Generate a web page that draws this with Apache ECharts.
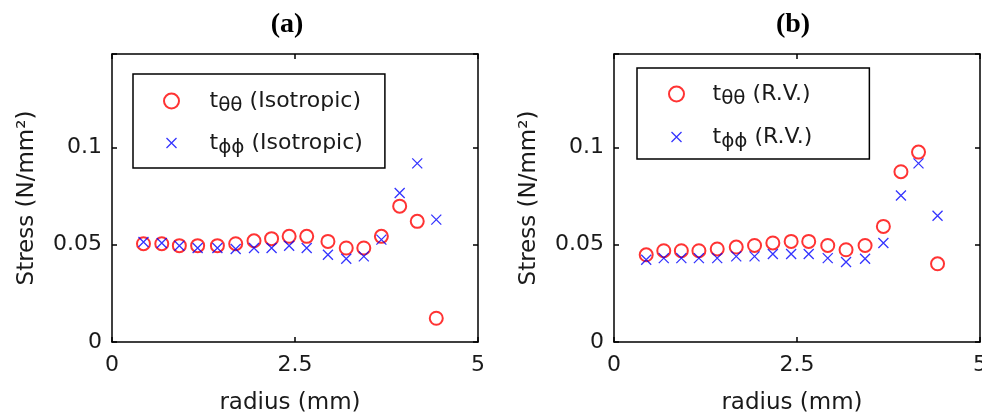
<!DOCTYPE html>
<html>
<head>
<meta charset="utf-8">
<script src="https://cdn.jsdelivr.net/npm/echarts@6/dist/echarts.min.js"></script>
<style>html,body{margin:0;padding:0;background:#fff;}#c{width:982px;height:415px;}</style>
</head>
<body>
<div id="c"></div>
<script>
// ---- data ----
const radiusA = [0.43,0.68,0.92,1.17,1.44,1.69,1.94,2.18,2.42,2.66,2.95,3.20,3.44,3.68,3.93,4.17,4.43];
const tThetaA = [0.0505,0.0505,0.0495,0.0495,0.0495,0.0505,0.0520,0.0531,0.0543,0.0543,0.0517,0.0483,0.0483,0.0543,0.0698,0.0620,0.0122];
const tPhiA   = [0.0514,0.0509,0.0495,0.0483,0.0483,0.0478,0.0483,0.0483,0.0495,0.0483,0.0448,0.0428,0.0440,0.0526,0.0766,0.0918,0.0629];

const radiusB = [0.44,0.68,0.92,1.16,1.41,1.67,1.92,2.17,2.42,2.66,2.92,3.17,3.43,3.68,3.92,4.16,4.42];
const tThetaB = [0.0448,0.0469,0.0469,0.0469,0.0478,0.0488,0.0496,0.0509,0.0517,0.0517,0.0496,0.0474,0.0496,0.0594,0.0875,0.0976,0.0402];
const tPhiB   = [0.0423,0.0431,0.0431,0.0431,0.0431,0.0440,0.0440,0.0452,0.0452,0.0452,0.0431,0.0411,0.0428,0.0509,0.0753,0.0918,0.0649];

const seriesNamesA = ['tθθ (Isotropic)', 'tϕϕ (Isotropic)'];
const seriesNamesB = ['tθθ (R.V.)', 'tϕϕ (R.V.)'];
const panelTitles = ['(a)', '(b)'];
const xTickValues = [0, 2.5, 5];
const xTickLabels = ['0', '2.5', '5'];
const yTickValues = [0, 0.05, 0.1];
const yTickLabels = ['0', '0.05', '0.1'];
const xAxisName = 'radius (mm)';
const yAxisName = 'Stress (N/mm²)';

// ---- styling / layout ----
const FONT = 'DejaVu Sans';
const TXT = '#1a1a1a';
const crossPath = 'path://M0,0M15,15M2.5,2.5L12.5,12.5M12.5,2.5L2.5,12.5';
const grids = [
  {left: 112, top: 54, width: 366, height: 288},
  {left: 614, top: 54, width: 366, height: 288}
];
function zip(xs, ys){ return xs.map((x,i)=>[x, ys[i]]); }
function pick(vals, labels){
  return function(v){
    for (let i=0;i<vals.length;i++) if (Math.abs(v-vals[i])<1e-9) return labels[i];
    return '';
  };
}
const tickStyle = {inside: true, length: 5, lineStyle: {color: '#000', width: 1.5}};
const lineStyle = {show: true, onZero: false, lineStyle: {color: '#000', width: 1.5}};

const xAxes = [], yAxes = [];
grids.forEach((g, gi) => {
  xAxes.push({
    type: 'value', gridIndex: gi, position: 'bottom', min: 0, max: 5, interval: 2.5,
    axisLine: lineStyle, splitLine: {show: false}, axisTick: tickStyle,
    axisLabel: {formatter: pick(xTickValues, xTickLabels), fontFamily: FONT, fontSize: 22, color: TXT, margin: 12},
    name: xAxisName, nameLocation: 'middle', nameGap: 50,
    nameTextStyle: {fontFamily: FONT, fontSize: 23, color: TXT, padding: [0, 10, 0, 0]}
  });
  xAxes.push({
    type: 'value', gridIndex: gi, position: 'top', min: 0, max: 5, interval: 2.5,
    axisLine: lineStyle, splitLine: {show: false}, axisTick: tickStyle, axisLabel: {show: false}
  });
  yAxes.push({
    type: 'value', gridIndex: gi, position: 'left', min: 0, max: 0.148, interval: 0.05,
    axisLine: lineStyle, splitLine: {show: false}, axisTick: tickStyle,
    axisLabel: {formatter: pick(yTickValues, yTickLabels), fontFamily: FONT, fontSize: 22, color: TXT, margin: 10},
    name: yAxisName, nameLocation: 'middle', nameGap: 73, nameRotate: 90,
    nameTextStyle: {fontFamily: FONT, fontSize: 23, color: TXT}
  });
  yAxes.push({
    type: 'value', gridIndex: gi, position: 'right', min: 0, max: 0.148, interval: 0.05,
    axisLine: lineStyle, splitLine: {show: false}, axisTick: tickStyle, axisLabel: {show: false}
  });
});

function circleSeries(name, gi, xs, ys){
  return {type: 'scatter', name, xAxisIndex: gi*2, yAxisIndex: gi*2, data: zip(xs, ys),
    symbol: 'circle', symbolSize: 13,
    itemStyle: {color: 'rgba(0,0,0,0)', borderColor: '#ff0000', borderWidth: 2},
    emphasis: {disabled: true}, z: 2};
}
function crossSeries(name, gi, xs, ys){
  return {type: 'scatter', name, xAxisIndex: gi*2, yAxisIndex: gi*2, data: zip(xs, ys),
    symbol: crossPath, symbolSize: 15,
    itemStyle: {color: 'rgba(0,0,0,0)', borderColor: '#0000ff', borderWidth: 1.3},
    emphasis: {disabled: true}, z: 3};
}

const rich = {
  m: {fontFamily: FONT, fontSize: 22, lineHeight: 30, color: TXT},
  s: {fontFamily: FONT, fontSize: 20, lineHeight: 8, verticalAlign: 'bottom', color: TXT}
};
function legendFmt(name){
  return '{m|' + name.slice(0,1) + '}{s|' + name.slice(1,3) + '}{m|' + name.slice(3) + '}';
}
function legendData(names){
  return [
    {name: names[0], icon: 'circle', itemStyle: {color: 'rgba(0,0,0,0)', borderColor: '#ff0000', borderWidth: 2}},
    {name: names[1], icon: crossPath, itemStyle: {color: 'rgba(0,0,0,0)', borderColor: '#0000ff', borderWidth: 1.3}}
  ];
}

const option = {
  backgroundColor: '#fff',
  animation: false,
  grid: grids.map(g => Object.assign({show: false, containLabel: false, outerBoundsMode: 'none'}, g)),
  xAxis: xAxes,
  yAxis: yAxes,
  legend: [
    {orient: 'vertical', left: 133, top: 74, padding: [16, 22, 10, 30], itemWidth: 66, itemHeight: 15, itemGap: 16,
     borderColor: '#000', borderWidth: 1.5, backgroundColor: '#fff', selectedMode: false,
     data: legendData(seriesNamesA), formatter: legendFmt, textStyle: {fontFamily: FONT, fontSize: 22, color: TXT, rich}},
    {orient: 'vertical', left: 637, top: 68, padding: [15, 57, 7, 31], itemWidth: 62, itemHeight: 15, itemGap: 17,
     borderColor: '#000', borderWidth: 1.5, backgroundColor: '#fff', selectedMode: false,
     data: legendData(seriesNamesB), formatter: legendFmt, textStyle: {fontFamily: FONT, fontSize: 22, color: TXT, rich}}
  ],
  graphic: [
    {type: 'text', x: 287, y: 25, style: {text: panelTitles[0], font: 'bold 28px "Liberation Serif"', fill: '#000', textAlign: 'center', textVerticalAlign: 'middle'}},
    {type: 'text', x: 793, y: 25, style: {text: panelTitles[1], font: 'bold 28px "Liberation Serif"', fill: '#000', textAlign: 'center', textVerticalAlign: 'middle'}}
  ],
  series: [
    circleSeries(seriesNamesA[0], 0, radiusA, tThetaA),
    crossSeries(seriesNamesA[1], 0, radiusA, tPhiA),
    circleSeries(seriesNamesB[0], 1, radiusB, tThetaB),
    crossSeries(seriesNamesB[1], 1, radiusB, tPhiB)
  ]
};
const chart = echarts.init(document.getElementById('c'), null, {renderer: 'canvas'});
chart.setOption(option);
</script>
</body>
</html>
